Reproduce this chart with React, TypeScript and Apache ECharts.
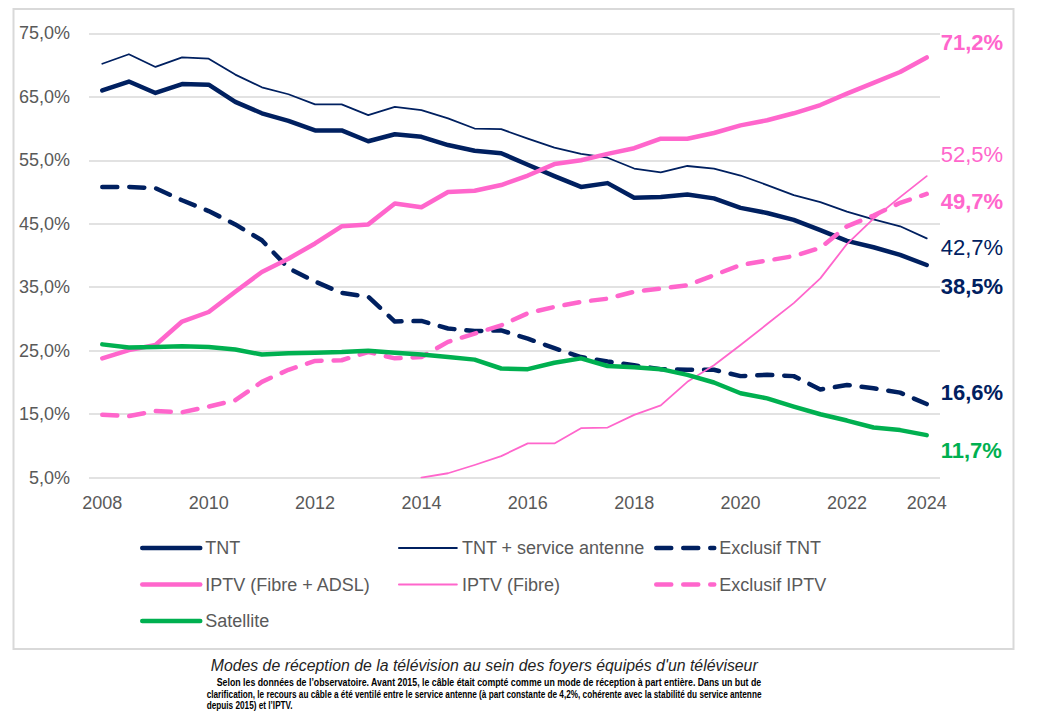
import React, { useEffect, useRef } from "react";
import * as echarts from "echarts";

// Half-year periods (first half / second half of each year)
const periods = [
  "2008 S1", "2008 S2", "2009 S1", "2009 S2", "2010 S1", "2010 S2", "2011 S1", "2011 S2",
  "2012 S1", "2012 S2", "2013 S1", "2013 S2", "2014 S1", "2014 S2", "2015 S1", "2015 S2",
  "2016 S1", "2016 S2", "2017 S1", "2017 S2", "2018 S1", "2018 S2", "2019 S1", "2019 S2",
  "2020 S1", "2020 S2", "2021 S1", "2021 S2", "2022 S1", "2022 S2", "2023 S1", "2023 S2",
];
// Tick labels shown under the axis (index -> label)
const tickLabels: Record<number, string> = {
  0: "2008", 4: "2010", 8: "2012", 12: "2014", 16: "2016", 20: "2018", 24: "2020", 28: "2022", 31: "2024",
};

const tnt = [66.0, 67.4, 65.6, 67.0, 66.9, 64.2, 62.4, 61.2, 59.7, 59.7, 58.0, 59.1, 58.7, 57.4, 56.5, 56.1,
  54.3, 52.5, 50.8, 51.4, 49.1, 49.2, 49.6, 49.0, 47.5, 46.7, 45.6, 44.0, 42.3, 41.3, 40.1, 38.5];
const tntAntenne = [70.2, 71.7, 69.7, 71.2, 71.0, 68.5, 66.5, 65.4, 63.8, 63.8, 62.1, 63.4, 62.9, 61.6, 60.0, 59.9,
  58.4, 57.0, 56.0, 55.4, 53.7, 53.1, 54.1, 53.7, 52.6, 51.1, 49.5, 48.4, 46.9, 45.7, 44.6, 42.7];
const exclusifTnt = [50.8, 50.8, 50.6, 48.7, 47.0, 44.9, 42.4, 38.0, 35.9, 34.1, 33.5, 29.6, 29.7, 28.5, 28.1, 28.2,
  26.9, 25.4, 24.0, 23.3, 22.7, 22.1, 22.0, 22.0, 21.0, 21.2, 21.0, 18.9, 19.6, 19.1, 18.4, 16.6];
const iptvTotal = [23.8, 25.1, 25.9, 29.6, 31.1, 34.3, 37.4, 39.5, 41.9, 44.6, 44.9, 48.2, 47.6, 50.0, 50.2, 51.1,
  52.6, 54.4, 55.0, 56.0, 56.9, 58.4, 58.4, 59.3, 60.5, 61.3, 62.4, 63.7, 65.5, 67.2, 68.9, 71.2];
const iptvFibre = [null, null, null, null, null, null, null, null, null, null, null, null, 5.0, 5.7, 7.0, 8.4,
  10.4, 10.4, 12.8, 12.9, 14.9, 16.4, 20.1, 22.7, 25.9, 29.2, 32.5, 36.4, 41.8, 45.8, 49.2, 52.5];
const exclusifIptv = [14.9, 14.7, 15.5, 15.3, 16.2, 17.2, 20.1, 22.0, 23.4, 23.5, 24.8, 23.8, 24.0, 26.4, 27.7, 29.0,
  30.9, 31.9, 32.7, 33.2, 34.3, 34.8, 35.3, 36.9, 38.5, 39.2, 39.9, 41.2, 44.6, 46.3, 48.3, 49.7];
const satellite = [26.0, 25.5, 25.6, 25.7, 25.6, 25.2, 24.4, 24.6, 24.7, 24.8, 25.0, 24.7, 24.4, 24.0, 23.6, 22.2,
  22.1, 23.1, 23.8, 22.6, 22.4, 22.1, 21.2, 20.0, 18.3, 17.5, 16.2, 15.0, 14.0, 12.9, 12.5, 11.7];

const legendCol1 = ["TNT", "IPTV (Fibre + ADSL)", "Satellite"];
const legendCol2 = ["TNT + service antenne", "IPTV (Fibre)"];
const legendCol3 = ["Exclusif TNT", "Exclusif IPTV"];

const caption = "Modes de réception de la télévision au sein des foyers équipés d'un téléviseur";
const noteLines = [
  "Selon les données de l’observatoire. Avant 2015, le câble était compté comme un mode de réception à part entière. Dans un but de",
  "clarification, le recours au câble a été ventilé entre le service antenne (à part constante de 4,2%, cohérente avec la stabilité du service antenne",
  "depuis 2015) et l’IPTV.",
];

const NAVY = "#002060";
const PINK = "#ff66cc";
const GREEN = "#00b050";
const GREY_TEXT = "#595959";
const FONT = "'Liberation Sans', Arial, sans-serif";

const THICK = 4.5;
const THIN = 1.8;
const DASH = [15, 12];

const fmt = (v: number) => v.toFixed(1).replace(".", ",") + "%";

function measure(text: string, font: string): number {
  const c = document.createElement("canvas").getContext("2d");
  if (!c) return text.length * 5;
  c.font = font;
  return c.measureText(text).width;
}

const widths: Record<string, number> = {
  "TNT": THICK,
  "TNT + service antenne": THIN,
  "Exclusif TNT": THICK,
  "IPTV (Fibre + ADSL)": THICK,
  "IPTV (Fibre)": THIN,
  "Exclusif IPTV": THICK,
  "Satellite": THICK,
};

function lineSeries(
  name: string,
  data: (number | null)[],
  color: string,
  dashed: boolean,
  bold: boolean,
  dy: number
) {
  return {
    name,
    type: "line",
    data,
    symbol: "none",
    showSymbol: false,
    connectNulls: false,
    lineStyle: {
      color,
      width: widths[name],
      type: dashed ? DASH : "solid",
      cap: "round",
      join: "round",
    },
    itemStyle: { color },
    endLabel: {
      show: true,
      formatter: (p: any) => fmt(Array.isArray(p.value) ? p.value[1] : p.value),
      color,
      fontSize: 22,
      fontWeight: bold ? "bold" : "normal",
      fontFamily: FONT,
      distance: 14,
      offset: [0, dy],
    },
    emphasis: { disabled: true },
  };
}

const legendItems = (names: string[]) =>
  names.map((n) => ({
    name: n,
    lineStyle: { width: widths[n] },
  }));

export default function App() {
  const ref = useRef<HTMLDivElement>(null);

  useEffect(() => {
    if (!ref.current) return;
    const chart = echarts.init(ref.current, undefined, { renderer: "svg" });

    const capFont = `italic 17px ${FONT}`;
    const capScale = (758 - 210.7) / measure(caption, capFont);

    const noteFont = `bold 10px ${FONT}`;
    const n1Scale = (762 - 216.7) / measure(noteLines[0], noteFont);
    const n2Scale = (762 - 206.7) / measure(noteLines[1], noteFont);

    const legendBase = {
      orient: "vertical",
      top: 534,
      itemGap: 18.5,
      itemWidth: 58,
      itemHeight: 14,
      selectedMode: false,
      itemStyle: { opacity: 0 },
      lineStyle: { cap: "round" },
      textStyle: { color: GREY_TEXT, fontSize: 18, fontFamily: FONT },
    };

    const noteText = (text: string, x: number, y: number, scaleX: number) => ({
      type: "text",
      silent: true,
      x,
      y,
      scaleX,
      style: {
        text,
        fontSize: 10,
        fontWeight: "bold",
        fontFamily: FONT,
        fill: "#000000",
        textAlign: "left",
        textVerticalAlign: "middle",
      },
    });

    chart.setOption({
      animation: false,
      backgroundColor: "#ffffff",
      grid: { left: 89, right: 97, top: 33.3, bottom: 236.3, containLabel: false },
      xAxis: {
        type: "category",
        data: periods,
        boundaryGap: true,
        axisLine: { show: false },
        axisTick: { show: false },
        axisLabel: {
          interval: (idx: number) => tickLabels[idx] !== undefined,
          formatter: (_v: string, idx: number) => tickLabels[idx] ?? "",
          color: GREY_TEXT,
          fontSize: 18,
          fontFamily: FONT,
          margin: 16,
        },
        splitLine: { show: false },
      },
      yAxis: {
        type: "value",
        min: 5,
        max: 75,
        interval: 10,
        axisLine: { show: false },
        axisTick: { show: false },
        axisLabel: {
          formatter: (v: number) => fmt(v),
          color: GREY_TEXT,
          fontSize: 18,
          fontFamily: FONT,
          margin: 19,
        },
        splitLine: { show: true, lineStyle: { color: "#d9d9d9", width: 1.5 } },
      },
      legend: [
        { ...legendBase, left: 135, data: legendItems(legendCol1) },
        { ...legendBase, left: 393, data: legendItems(legendCol2) },
        { ...legendBase, left: 649, data: legendItems(legendCol3) },
      ],
      series: [
        lineSeries("TNT", tnt, NAVY, false, true, 21.7),
        lineSeries("TNT + service antenne", tntAntenne, NAVY, false, false, 9),
        lineSeries("Exclusif TNT", exclusifTnt, NAVY, true, true, -11.3),
        lineSeries("IPTV (Fibre + ADSL)", iptvTotal, PINK, false, true, -14.6),
        lineSeries("IPTV (Fibre)", iptvFibre, PINK, false, false, -21.4),
        lineSeries("Exclusif IPTV", exclusifIptv, PINK, true, true, 8),
        lineSeries("Satellite", satellite, GREEN, false, true, 15),
      ],
      graphic: [
        {
          type: "rect",
          silent: true,
          shape: { x: 13.5, y: 9, width: 1000, height: 640 },
          style: { fill: "none", stroke: "#d9d9d9", lineWidth: 2 },
        },
        {
          type: "text",
          silent: true,
          x: 210.7,
          y: 664.5,
          scaleX: capScale,
          style: {
            text: caption,
            fontSize: 17,
            fontStyle: "italic",
            fontFamily: FONT,
            fill: "#1f1f1f",
            textAlign: "left",
            textVerticalAlign: "middle",
          },
        },
        noteText(noteLines[0], 216.7, 682.5, n1Scale),
        noteText(noteLines[1], 206.7, 694.8, n2Scale),
        noteText(noteLines[2], 206.7, 705.8, n2Scale),
      ],
    });

    return () => chart.dispose();
  }, []);

  return (
    <div
      ref={ref}
      style={{ position: "fixed", left: 0, top: 0, width: 1037, height: 714, background: "#ffffff" }}
    />
  );
}
